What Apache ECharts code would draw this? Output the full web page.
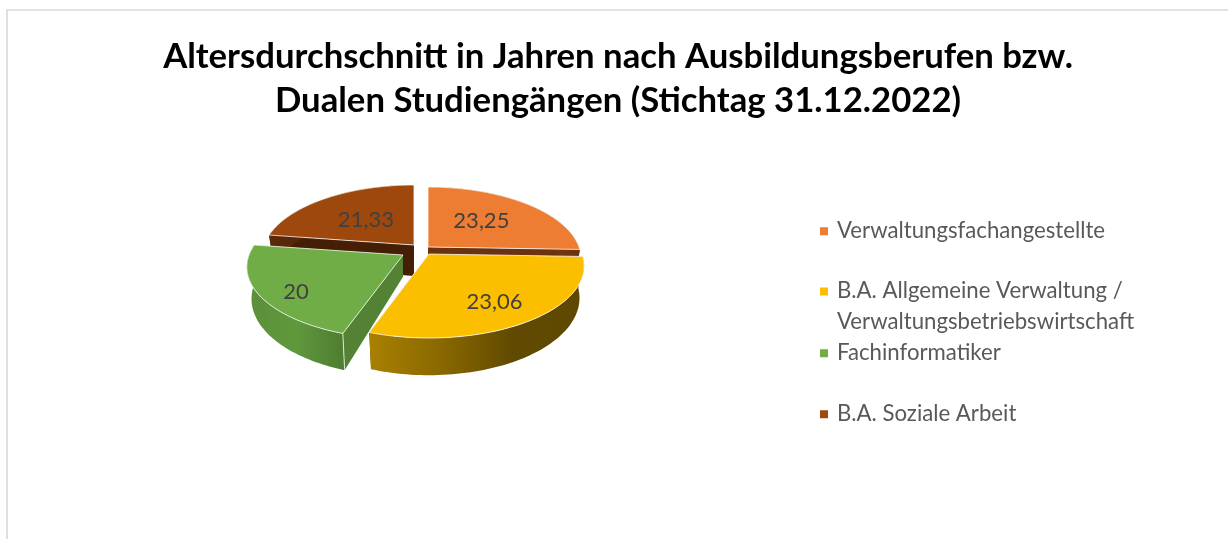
<!DOCTYPE html>
<html><head><meta charset="utf-8">
<style>html,body{margin:0;padding:0;background:#fff}#c{width:1228px;height:539px}</style>
<script src="https://cdn.jsdelivr.net/npm/echarts@6/dist/echarts.min.js"></script>
</head><body><div id="c"></div>
<script>
const titleText = 'Altersdurchschnitt in Jahren nach Ausbildungsberufen bzw.\nDualen Studiengängen (Stichtag 31.12.2022)';
const categories = ['Verwaltungsfachangestellte','B.A. Allgemeine Verwaltung /\nVerwaltungsbetriebswirtschaft','Fachinformatiker','B.A. Soziale Arbeit'];
const values = [23.25, 23.06, 20, 21.33];

// colours
const topColors = ['#EC7D32','#FCBF00','#70AD47','#9E480E'];
const faceColors = ['#6B3210','#6B5000','#548235','#451F05'];
const wallStops = [
  ['#8A4A1E','#6B3210'],
  ['#A98000','#8A6800','#614A00','#5E4700'],
  ['#5C8F3A','#5F983D','#4E7C31'],
  ['#5A2A08','#451F05']
];
// layout of each exploded slice
const centers = [[428,247],[429,254],[403,255],[414,245]];
const radii = [151,153,154,150];
const apexDepth = [1,1,0.7,1];
const zOrder = [2,4,3,2];
const labelRho = [0.55,0.72,0.78,0.5];
const labelShift = [[-11,-5],[-19,9],[10,15],[6,-4]];
const legendTops = [231,295,353,414];
// projection of the tilted pie
const persp = 1/6, depthScale = 70, thickness = 31, bottomShrink = 0.03;
const warp = [-4.42,9.46,2.47];

const total = values.reduce((a,b)=>a+b,0);
const rad = d => d*Math.PI/180;
const warpAngle = t => t + warp[0]*Math.sin(rad(t)) + warp[1]*Math.sin(rad(2*t)) + warp[2]*(1-Math.cos(rad(t)));
function project(i,theta,rho,z){
  const u = rho*Math.sin(rad(theta)), v = -rho*Math.cos(rad(theta)), w = 1-persp*v;
  return [centers[i][0]+radii[i]*u/w*(1-bottomShrink*z), centers[i][1]+depthScale*v/w+z*thickness/w];
}
function renderSlice(i){
  return function(params,api){
    const before = values.slice(0,i).reduce((a,b)=>a+b,0);
    const a0 = warpAngle(before/total*360), a1 = warpAngle((before+api.value(0))/total*360);
    const rimTop=[], rimBot=[];
    for(let k=0;k<=72;k++){const t=a0+(a1-a0)*k/72; rimTop.push(project(i,t,1,0)); rimBot.push(project(i,t,1,1));}
    const apexT=project(i,0,0,0), apexB=project(i,0,0,apexDepth[i]);
    const edge='rgba(255,255,255,.75)';
    const stops=wallStops[i].map((c,n,arr)=>({offset:n/(arr.length-1),color:c}));
    const children=[
      {type:'polygon',shape:{points:[apexT,rimTop[72],rimBot[72],apexB]},style:{fill:faceColors[i]}},
      {type:'polygon',shape:{points:[apexT,rimTop[0],rimBot[0],apexB]},style:{fill:faceColors[i]}},
      {type:'polygon',shape:{points:rimTop.concat(rimBot.slice().reverse())},style:{fill:new echarts.graphic.LinearGradient(0,0,1,0,stops)}},
      {type:'polygon',shape:{points:[apexT].concat(rimTop)},style:{fill:topColors[i],stroke:edge,lineWidth:1}}
    ];
    if(i===2){children.splice(3,0,{type:'polyline',shape:{points:[rimTop[0],rimBot[0]]},style:{stroke:edge,fill:null,lineWidth:1}});}
    const mid=warpAngle((before+api.value(0)/2)/total*360);
    const p=project(i,mid,labelRho[i],0);
    children.push({type:'text',style:{x:p[0]+labelShift[i][0],y:p[1]+labelShift[i][1],text:String(api.value(0)).replace('.',','),fill:'#404040',font:'22px Lato',align:'center',verticalAlign:'middle'}});
    return {type:'group',children};
  };
}
const chart = echarts.init(document.getElementById('c'),null,{renderer:'canvas'});
chart.setOption({
  animation:false,
  backgroundColor:'#fff',
  title:{text:titleText,left:613,top:30,textAlign:'center',
    textStyle:{fontFamily:'Lato',fontWeight:'bold',fontSize:34.7,lineHeight:44,color:'#000'}},
  legend:categories.map((name,i)=>{
    const multi=name.includes('\n');
    return {data:[name],left:820,top:multi?legendTops[i]-19:legendTops[i]-15,orient:'vertical',padding:0,selectedMode:false,
      icon:multi?'path://M0 0H8V8H0Z M0 38H0V38Z':'rect',itemWidth:8,itemHeight:multi?38:8,itemGap:0,
      textStyle:{fontFamily:'Lato',fontSize:22.2,lineHeight:30.5,color:'#595959',padding:[0,0,0,4]}};
  }),
  graphic:[
    {type:'polyline',silent:true,shape:{points:[[7,539],[7,10],[1228,10]]},style:{stroke:'#D9D9D9',lineWidth:1.6,fill:null}}
  ],
  series:categories.map((name,i)=>({
    type:'custom',name,coordinateSystem:'none',z:zOrder[i],silent:true,
    itemStyle:{color:topColors[i]},
    data:[[values[i]]],
    renderItem:renderSlice(i)
  }))
});
</script></body></html>
